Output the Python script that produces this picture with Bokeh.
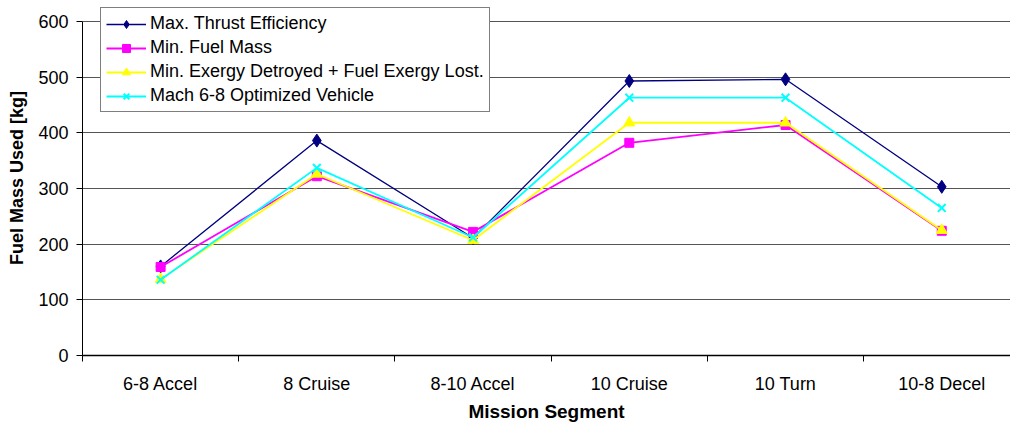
from bokeh.plotting import figure
from bokeh.models import FixedTicker, Range1d, Legend, LegendItem
from bokeh.embed import file_html
from bokeh.resources import INLINE

segments = ["6-8 Accel", "8 Cruise", "8-10 Accel", "10 Cruise", "10 Turn", "10-8 Decel"]
max_thrust = [160, 386, 211, 493, 496, 303]
min_fuel = [159, 322, 222, 382, 414, 224]
min_exergy = [137, 326, 207, 418, 418, 225]
mach68 = [136, 337, 212, 463, 463, 265]
y_ticks = [0, 100, 200, 300, 400, 500, 600]

xs = [i + 0.5 for i in range(len(segments))]

p = figure(width=1010, height=424, output_backend="svg", toolbar_location=None,
           x_range=Range1d(0, 5.94), y_range=Range1d(0, 637.6),
           min_border_left=82, min_border_right=0, min_border_top=0, min_border_bottom=68)
p.outline_line_color = None
p.background_fill_color = "white"
p.border_fill_color = "white"

font = "Liberation Sans"

specs = [
    ("Max. Thrust Efficiency", max_thrust, "#000080", "diamond", 13, 1.3),
    ("Min. Fuel Mass", min_fuel, "#FF00FF", "square", 9, 1.8),
    ("Min. Exergy Detroyed + Fuel Exergy Lost.", min_exergy, "#FFFF00", "triangle", 11, 1.8),
    ("Mach 6-8 Optimized Vehicle", mach68, "#00FFFF", "x", 11, 1.8),
]
items = []
for label, ys, color, marker, size, lw in specs:
    l = p.line(xs, ys, line_color=color, line_width=lw)
    m = p.scatter(xs, ys, marker=marker, size=size, fill_color=color, line_color=color,
                  line_width=2 if marker == "x" else 1)
    items.append(LegendItem(label=label, renderers=[l, m]))

# axes
p.xaxis.ticker = FixedTicker(ticks=xs, minor_ticks=list(range(0, 7)))
p.xaxis.major_label_overrides = {x: s for x, s in zip(xs, segments)}
p.xaxis.major_tick_out = 0
p.xaxis.major_tick_in = 0
p.xaxis.minor_tick_out = 6
p.xaxis.minor_tick_in = 0
p.xaxis.minor_tick_line_color = "black"
p.xaxis.axis_line_color = "black"
p.xaxis.axis_line_width = 1.5
p.xaxis.major_label_text_font = font
p.xaxis.major_label_text_font_size = "18px"
p.xaxis.major_label_text_color = "black"
p.xaxis.major_label_standoff = 12
p.xaxis.axis_label = "Mission Segment"
p.xaxis.axis_label_text_font = font
p.xaxis.axis_label_text_font_style = "bold"
p.xaxis.axis_label_text_font_size = "19px"
p.xaxis.axis_label_text_color = "black"
p.xaxis.axis_label_standoff = 4

p.yaxis.ticker = FixedTicker(ticks=y_ticks)
p.yaxis.bounds = (0, 600)
p.yaxis.major_tick_out = 6
p.yaxis.major_tick_in = 0
p.yaxis.minor_tick_out = 0
p.yaxis.minor_tick_in = 0
p.yaxis.axis_line_color = "black"
p.yaxis.major_label_text_font = font
p.yaxis.major_label_text_font_size = "18px"
p.yaxis.major_label_text_color = "black"
p.yaxis.major_label_standoff = 8
p.yaxis.axis_label = "Fuel Mass Used [kg]"
p.yaxis.axis_label_text_font = font
p.yaxis.axis_label_text_font_style = "bold"
p.yaxis.axis_label_text_font_size = "18px"
p.yaxis.axis_label_text_color = "black"
p.yaxis.axis_label_standoff = 8

p.xgrid.grid_line_color = None
p.ygrid.grid_line_color = "#555555"
p.ygrid.grid_line_width = 1

legend = Legend(items=items, location=(18, 243))
legend.label_text_font = font
legend.label_text_font_size = "18px"
legend.label_text_color = "black"
legend.glyph_width = 40
legend.glyph_height = 20
legend.label_standoff = 4
legend.label_height = 20
legend.spacing = 3
legend.padding = 5
legend.margin = 0
legend.border_line_color = "black"
legend.border_line_width = 1
legend.background_fill_alpha = 1
p.add_layout(legend, "center")

open("out.html", "w").write(file_html(p, INLINE))
